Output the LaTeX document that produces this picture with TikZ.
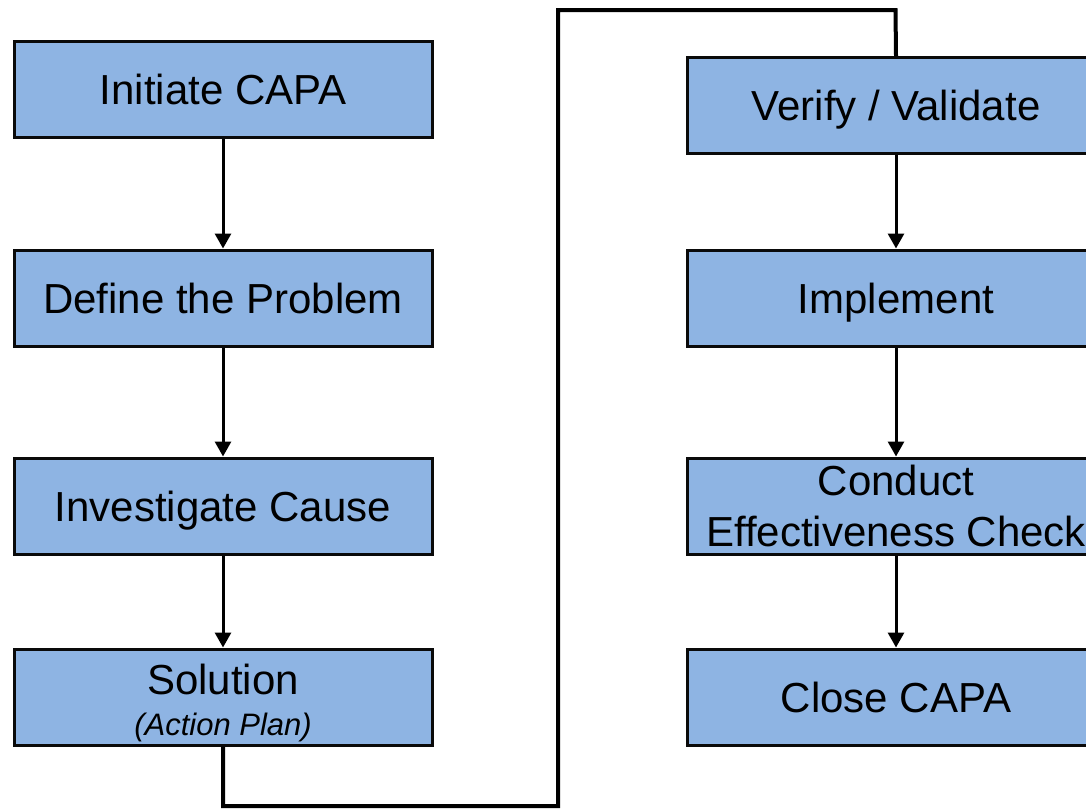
\documentclass[tikz,border=0pt]{standalone}
\usepackage{fontspec}
\setmainfont{Liberation Sans}
\usetikzlibrary{arrows.meta}
\definecolor{boxfill}{HTML}{8EB4E3}
\definecolor{boxline}{HTML}{0A0A0A}
\tikzset{
  boxshape/.style={draw=boxline, line width=3pt, fill=boxfill, rectangle,
    minimum width=418pt, minimum height=96pt, inner sep=0pt, align=center,
    font=\fontsize{42}{51}\selectfont},
  stepbox/.style={boxshape, text height=30pt, text depth=0pt},
  flow/.style={line width=3pt, -{Triangle[width=16pt,length=15pt]}},
  link/.style={line width=4pt}
}
\begin{document}
\begin{tikzpicture}[x=1pt, y=-1pt]
  \useasboundingbox (0,0) rectangle (1086,809);
  \clip (0,0) rectangle (1086,809);
  % left column
  \node[stepbox] (n1) at (223,89) {Initiate CAPA};
  \node[stepbox] (n2) at (223,298) {Define the Problem};
  \node[stepbox] (n3) at (223,506) {Investigate Cause};
  \node[boxshape] (n4) at (223,697) {\rule{0pt}{42pt}Solution\\[-10pt]{\fontsize{31}{36}\selectfont\itshape (Action Plan)}};
  % right column
  \node[stepbox] (m1) at (896,105.5) {Verify / Validate};
  \node[stepbox] (m2) at (896,298) {Implement};
  \node[boxshape] (m3) at (896,506) {Conduct\\Effectiveness Check};
  \node[stepbox] (m4) at (896,697) {Close CAPA};
  % arrows within each column
  \draw[flow] (n1) -- (n2);
  \draw[flow] (n2) -- (n3);
  \draw[flow] (n3) -- (n4);
  \draw[flow] (m1) -- (m2);
  \draw[flow] (m2) -- (m3);
  \draw[flow] (m3) -- (m4);
  % link from the left column to the right column
  \coordinate (c1) at (223,806);
  \coordinate (c2) at (558,806);
  \coordinate (c3) at (558,10);
  \coordinate (c4) at (895.5,10);
  \draw[link, line join=miter] (n4.south) -- (c1) -- (c2) -- (c3) -- (c4) -- (m1.north);
\end{tikzpicture}
\end{document}
